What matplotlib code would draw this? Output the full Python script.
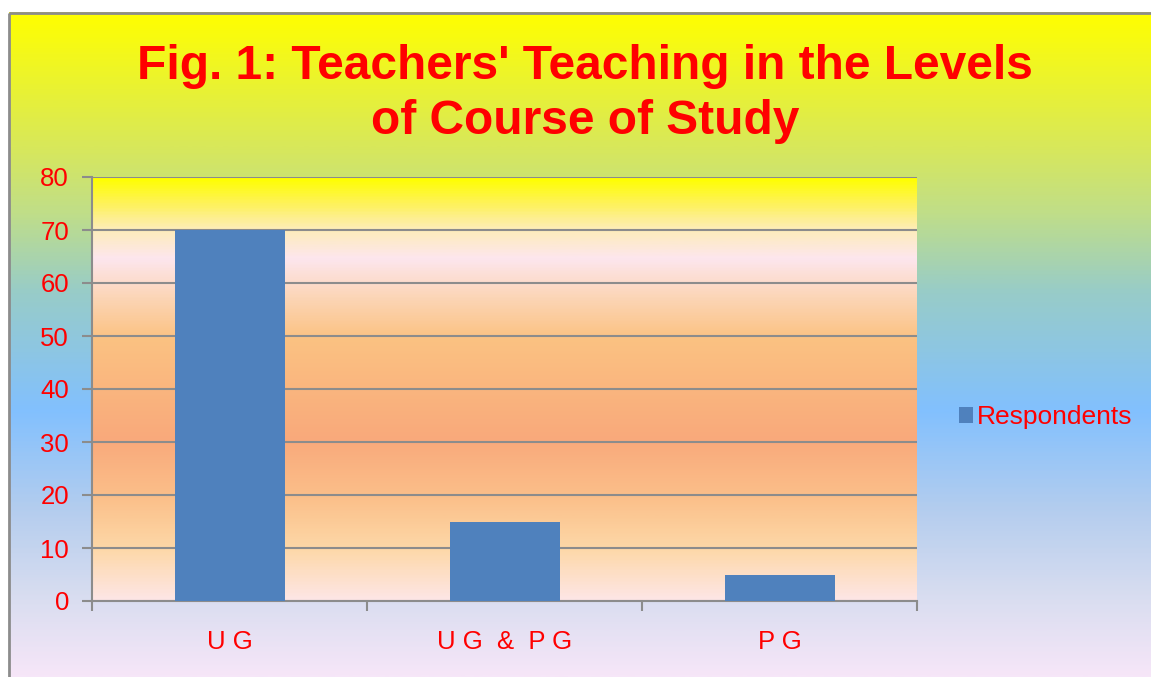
import matplotlib
matplotlib.use("Agg")
import matplotlib.pyplot as plt
import numpy as np
from matplotlib.colors import LinearSegmentedColormap
from matplotlib.patches import Rectangle

plt.rcParams['font.family'] = ['Liberation Sans', 'DejaVu Sans']

categories = ["U G", "U G  &  P G", "P G"]
respondents = [70, 15, 5]
yticks = [0, 10, 20, 30, 40, 50, 60, 70, 80]
title = "Fig. 1: Teachers' Teaching in the Levels\nof Course of Study"

W, H = 1151, 677
fig = plt.figure(figsize=(W / 100, H / 100), dpi=100)
fig.patch.set_facecolor("white")

# outer gradient background (pixel coordinates)
bg = fig.add_axes([0, 0, 1, 1], zorder=0)
bg.set_xlim(0, W)
bg.set_ylim(H, 0)
bg.axis("off")
outer_cmap = LinearSegmentedColormap.from_list("outer", [
    (0.00, "#FFFF00"),
    (0.20, "#D8E85A"),
    (0.30, "#C0DE88"),
    (0.42, "#98CCC8"),
    (0.60, "#82C0FE"),
    (0.75, "#B4CDEE"),
    (0.88, "#D8DDF0"),
    (1.00, "#F6E6F8"),
])
grad = np.linspace(0, 1, 400).reshape(-1, 1)
bg.imshow(grad, cmap=outer_cmap, aspect="auto", extent=(9, W + 5, H, 12), zorder=0)
bg.add_patch(Rectangle((9.5, 12.5), W, H, fill=False, edgecolor="#8C8C8C", lw=2, zorder=1))

# plot area
left, right, top, bottom = 92, 917, 177, 601
ax = fig.add_axes([left / W, 1 - bottom / H, (right - left) / W, (bottom - top) / H], zorder=2)
ax.patch.set_alpha(0)
inner_cmap = LinearSegmentedColormap.from_list("inner", [
    (0.00, "#FFFF00"),
    (0.06, "#FEF25A"),
    (0.12, "#FDEDB8"),
    (0.19, "#FDE6EE"),
    (0.28, "#FCD6B8"),
    (0.38, "#FBC282"),
    (0.62, "#F9A97B"),
    (0.76, "#FBC08A"),
    (0.88, "#FDD8A8"),
    (1.00, "#FEE6E6"),
])
ax.imshow(grad, cmap=inner_cmap, aspect="auto", extent=(-0.5, 2.5, 0, 80), zorder=0)

x = np.arange(len(categories))
ax.set_axisbelow(True)
ax.bar(x, respondents, width=0.4, color="#4F81BD", label="Respondents", zorder=3)

ax.set_xlim(-0.5, 2.5)
ax.set_ylim(0, 80)
ax.set_yticks(yticks)
ax.yaxis.grid(True, color="#8C8C8C", lw=1.5, zorder=1)
ax.tick_params(axis="y", colors="#8C8C8C", labelcolor="red", labelsize=18.5,
               length=7, width=1.5, pad=9.5)
ax.set_xticks(x)
ax.set_xticklabels(categories)
ax.set_xticks([-0.5, 0.5, 1.5, 2.5], minor=True)
ax.tick_params(axis="x", which="major", length=0, labelcolor="red", labelsize=18.5, pad=21)
ax.tick_params(axis="x", which="minor", length=7, width=1.5, colors="#8C8C8C")
for s in ["top", "right"]:
    ax.spines[s].set_visible(False)
for s in ["left", "bottom"]:
    ax.spines[s].set_color("#8C8C8C")
    ax.spines[s].set_linewidth(1.5)

fig.text(585 / W, 1 - 94 / H, title, ha="center", va="center", color="red",
         fontsize=34.5, fontweight="bold", linespacing=1.28)

fig.legend(loc="center left", bbox_to_anchor=(935 / W, 1 - 417 / H), frameon=False,
           handlelength=0.55, handleheight=0.55, handletextpad=0.15,
           fontsize=19, labelcolor="red")

fig.savefig("out.png", dpi=100)
